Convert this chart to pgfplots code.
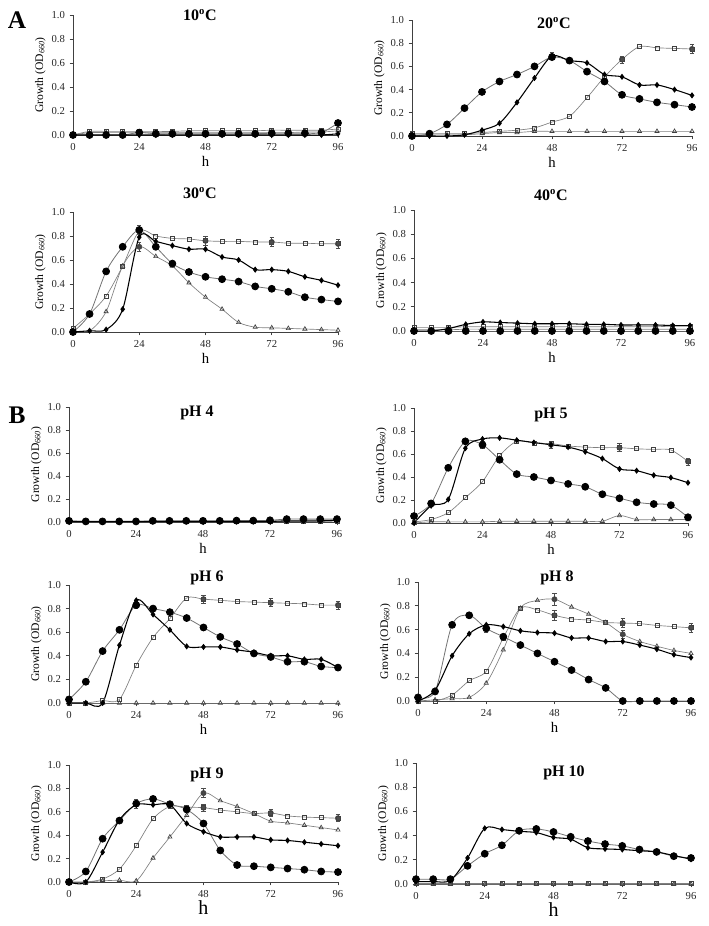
\documentclass[border=0pt]{standalone}
\usepackage{pgfplots}
\pgfplotsset{compat=1.18}
\usepackage{pgfplotstable}
\usepackage{fontspec}
\setmainfont{Liberation Serif}

% ---------- data: columns t, c (filled circles), d (diamonds), s (open squares), r (open triangles)
\pgfplotstableread{
t c d s r
0 0.00 0.00 0.00 0.00
6 0.00 0.00 0.03 0.02
12 0.00 0.00 0.03 0.02
18 0.00 0.00 0.03 0.02
24 0.02 0.00 0.03 0.02
30 0.01 0.00 0.03 0.02
36 0.01 0.00 0.03 0.02
42 0.01 0.00 0.035 0.02
48 0.01 0.00 0.035 0.02
54 0.01 0.00 0.035 0.02
60 0.01 0.00 0.035 0.02
66 0.01 0.00 0.035 0.02
72 0.015 0.00 0.04 0.02
78 0.015 0.00 0.04 0.02
84 0.015 0.00 0.04 0.025
90 0.02 0.00 0.04 0.025
96 0.10 0.01 0.05 0.035
}\tA
\pgfplotstableread{
t c d s r
0 0.00 0.00 0.02 0.01
6 0.02 0.00 0.02 0.01
12 0.10 0.00 0.02 0.01
18 0.24 0.01 0.02 0.01
24 0.38 0.05 0.03 0.02
30 0.47 0.11 0.04 0.03
36 0.53 0.29 0.05 0.03
42 0.60 0.50 0.07 0.04
48 0.68 0.69 0.12 0.04
54 0.65 0.65 0.17 0.04
60 0.555 0.63 0.33 0.04
66 0.47 0.53 0.51 0.04
72 0.355 0.51 0.66 0.04
78 0.32 0.44 0.77 0.04
84 0.29 0.44 0.76 0.04
90 0.27 0.40 0.755 0.04
96 0.25 0.35 0.75 0.04
}\tB
\pgfplotstableread{
t c d s r
0 0.00 0.00 0.03 0.01
6 0.15 0.01 0.15 0.01
12 0.505 0.02 0.30 0.17
18 0.71 0.19 0.55 0.55
24 0.85 0.79 0.84 0.71
30 0.71 0.755 0.80 0.63
36 0.57 0.72 0.78 0.55
42 0.50 0.69 0.775 0.41
48 0.46 0.69 0.76 0.29
54 0.44 0.625 0.755 0.19
60 0.42 0.60 0.755 0.08
66 0.38 0.52 0.75 0.04
72 0.36 0.52 0.75 0.035
78 0.335 0.505 0.74 0.03
84 0.29 0.46 0.74 0.025
90 0.27 0.43 0.735 0.02
96 0.255 0.39 0.735 0.015
}\tC
\pgfplotstableread{
t c d s r
0 0.00 0.00 0.03 0.01
6 0.00 0.00 0.03 0.01
12 0.00 0.02 0.03 0.01
18 0.00 0.055 0.035 0.015
24 0.00 0.075 0.035 0.015
30 0.00 0.07 0.035 0.015
36 0.00 0.065 0.035 0.015
42 0.00 0.06 0.035 0.015
48 0.00 0.06 0.035 0.015
54 0.00 0.06 0.035 0.015
60 0.00 0.055 0.035 0.015
66 0.00 0.055 0.035 0.015
72 0.00 0.05 0.035 0.015
78 0.00 0.05 0.035 0.015
84 0.00 0.05 0.035 0.015
90 0.00 0.045 0.04 0.015
96 0.00 0.045 0.04 0.015
}\tD
\pgfplotstableread{
t c d s r
0 0.01 0.005 0.005 0.005
6 0.005 0.005 0.005 0.005
12 0.005 0.005 0.005 0.005
18 0.005 0.005 0.005 0.005
24 0.005 0.005 0.005 0.005
30 0.01 0.005 0.005 0.005
36 0.01 0.005 0.005 0.005
42 0.01 0.005 0.005 0.005
48 0.01 0.005 0.005 0.005
54 0.01 0.005 0.005 0.005
60 0.012 0.005 0.005 0.005
66 0.012 0.005 0.005 0.005
72 0.015 0.005 0.005 0.005
78 0.025 0.01 0.005 0.008
84 0.025 0.01 0.005 0.008
90 0.025 0.01 0.008 0.008
96 0.025 0.015 0.01 0.01
}\tE
\pgfplotstableread{
t c d s r
0 0.06 0.00 0.01 0.00
6 0.17 0.15 0.03 0.01
12 0.48 0.205 0.09 0.01
18 0.71 0.65 0.22 0.01
24 0.68 0.73 0.36 0.01
30 0.55 0.74 0.585 0.015
36 0.425 0.72 0.71 0.015
42 0.40 0.70 0.695 0.015
48 0.37 0.68 0.69 0.015
54 0.34 0.66 0.67 0.015
60 0.315 0.62 0.66 0.015
66 0.25 0.56 0.655 0.015
72 0.215 0.47 0.655 0.065
78 0.18 0.455 0.645 0.03
84 0.165 0.415 0.64 0.03
90 0.155 0.395 0.635 0.03
96 0.05 0.35 0.535 0.03
}\tF
\pgfplotstableread{
t c d s r
0 0.03 0.00 0.00 0.00
6 0.18 0.00 0.00 0.00
12 0.44 0.00 0.02 0.00
18 0.62 0.49 0.03 0.00
24 0.83 0.87 0.32 0.00
30 0.80 0.75 0.555 0.00
36 0.77 0.62 0.715 0.00
42 0.72 0.48 0.89 0.00
48 0.64 0.475 0.88 0.00
54 0.56 0.475 0.87 0.00
60 0.50 0.45 0.86 0.00
66 0.42 0.43 0.855 0.00
72 0.39 0.40 0.85 0.00
78 0.35 0.40 0.845 0.00
84 0.35 0.37 0.84 0.00
90 0.31 0.37 0.83 0.00
96 0.30 0.30 0.83 0.00
}\tG
\pgfplotstableread{
t c d s r
0 0.03 0.00 0.00 0.00
6 0.08 0.09 0.00 0.01
12 0.64 0.38 0.05 0.02
18 0.72 0.565 0.17 0.03
24 0.61 0.64 0.25 0.15
30 0.54 0.625 0.53 0.43
36 0.47 0.59 0.78 0.78
42 0.40 0.575 0.765 0.845
48 0.33 0.57 0.72 0.855
54 0.26 0.53 0.69 0.79
60 0.18 0.53 0.68 0.73
66 0.11 0.50 0.66 0.66
72 0.00 0.50 0.655 0.56
78 0.00 0.47 0.65 0.50
84 0.00 0.435 0.635 0.46
90 0.00 0.39 0.625 0.425
96 0.00 0.365 0.615 0.40
}\tH
\pgfplotstableread{
t c d s r
0 0.00 0.00 0.00 0.00
6 0.09 0.00 0.00 0.00
12 0.37 0.255 0.025 0.01
18 0.525 0.53 0.11 0.015
24 0.67 0.66 0.31 0.01
30 0.71 0.66 0.54 0.205
36 0.665 0.66 0.645 0.385
42 0.62 0.50 0.64 0.57
48 0.50 0.43 0.635 0.76
54 0.27 0.385 0.615 0.695
60 0.145 0.385 0.60 0.645
66 0.135 0.385 0.585 0.585
72 0.125 0.36 0.59 0.52
78 0.115 0.355 0.565 0.505
84 0.105 0.34 0.555 0.485
90 0.09 0.325 0.55 0.465
96 0.085 0.31 0.545 0.445
}\tI
\pgfplotstableread{
t c d s r
0 0.04 0.02 0.005 0.00
6 0.04 0.02 0.005 0.00
12 0.04 0.03 0.005 0.00
18 0.15 0.215 0.005 0.00
24 0.25 0.46 0.005 0.00
30 0.32 0.45 0.005 0.00
36 0.44 0.435 0.005 0.00
42 0.455 0.425 0.005 0.00
48 0.43 0.385 0.005 0.00
54 0.39 0.37 0.005 0.00
60 0.355 0.30 0.005 0.00
66 0.33 0.29 0.005 0.00
72 0.315 0.285 0.005 0.00
78 0.285 0.275 0.005 0.00
84 0.265 0.265 0.005 0.00
90 0.23 0.235 0.005 0.00
96 0.215 0.205 0.005 0.00
}\tJ

\pgfplotsset{
  panel/.style={
    scale only axis,
    axis lines*=left,
    xmin=0, xmax=96, ymin=0, ymax=1,
    xtick={0,24,48,72,96},
    ytick={0,0.2,0.4,0.6,0.8,1},
    yticklabel style={/pgf/number format/fixed, /pgf/number format/fixed zerofill, /pgf/number format/precision=1},
    /pgf/number format/assume math mode=true,
    tick align=outside,
    major tick length=2.5pt,
    axis line style={black!75, line width=0.6pt},
    tick style={black!75, line width=0.6pt},
    tick label style={font=\fontsize{8}{8}\selectfont, black!85},
    clip=false,
    ylabel={Growth (OD\textsubscript{\itshape 660})},
    every axis y label/.style={at={(axis description cs:0,0.5)}, xshift=-24.5pt, rotate=90, anchor=center, font=\fontsize{8.7}{9}\selectfont},
    xlabel={h},
    every axis x label/.style={at={(axis description cs:0.5,0)}, yshift=-24pt, anchor=base, font=\fontsize{11}{12}\selectfont},
  },
  circst/.style={black!55, line width=0.6pt, smooth, tension=0.5, mark=*, mark size=2.6pt, mark options={solid, fill=black, draw=black}},
  diast/.style={black, line width=0.8pt, smooth, tension=0.5, mark=diamond*, mark size=1.7pt, mark options={solid, fill=black, draw=black}},
  sqst/.style={black!50, line width=0.5pt, smooth, tension=0.5, mark=square, mark size=1.5pt, mark options={solid, fill=white, draw=black!75, line width=0.5pt}},
  trist/.style={black!50, line width=0.5pt, smooth, tension=0.5, mark=triangle, mark size=1.8pt, mark options={solid, fill=white, draw=black!75, line width=0.5pt}},
  errst/.style={black!70, only marks, mark=none, error bars/.cd, y dir=both, y explicit, error bar style={line width=0.5pt, black!70}, error mark options={rotate=90, mark size=1.6pt, line width=0.5pt, black!70}},
}

\newcommand{\series}[1]{%
  \addplot[trist] table[x=t,y=r]{#1};
  \addplot[sqst] table[x=t,y=s]{#1};
  \addplot[circst] table[x=t,y=c]{#1};
  \addplot[diast] table[x=t,y=d]{#1};
}

\newcommand{\ttl}[1]{\fontsize{12}{12}\selectfont\bfseries #1}

\begin{document}
\begin{tikzpicture}
\path[use as bounding box] (0,0) rectangle (531pt,694.5pt);

% ---- Row 1
\begin{axis}[panel, at={(54.75pt,593.25pt)}, anchor=south west, width=198.75pt, height=90pt]
\series{\tA}
\end{axis}
\begin{axis}[panel, at={(309pt,592.5pt)}, anchor=south west, width=210pt, height=87pt]
\addplot[errst] coordinates {(48,0.69) +- (0,0.03) (72,0.66) +- (0,0.03) (96,0.75) +- (0,0.04)};
\series{\tB}
\end{axis}
% ---- Row 2
\begin{axis}[panel, at={(54.75pt,445.5pt)}, anchor=south west, width=198.75pt, height=90pt]
\addplot[errst] coordinates {(24,0.85) +- (0,0.04) (24,0.71) +- (0,0.04) (48,0.76) +- (0,0.04) (72,0.75) +- (0,0.04) (96,0.735) +- (0,0.035)};
\series{\tC}
\end{axis}
\begin{axis}[panel, at={(310.5pt,446.25pt)}, anchor=south west, width=207pt, height=90.75pt]
\series{\tD}
\end{axis}
% ---- Row 3
\begin{axis}[panel, at={(51.75pt,303pt)}, anchor=south west, width=201pt, height=86.25pt]
\series{\tE}
\end{axis}
\begin{axis}[panel, at={(310.5pt,302.25pt)}, anchor=south west, width=205.5pt, height=86.25pt]
\addplot[errst] coordinates {(24,0.68) +- (0,0.03) (48,0.68) +- (0,0.03) (72,0.655) +- (0,0.035) (96,0.535) +- (0,0.03)};
\series{\tF}
\end{axis}
% ---- Row 4
\begin{axis}[panel, at={(51.75pt,167.25pt)}, anchor=south west, width=201.75pt, height=88.5pt]
\addplot[errst] coordinates {(24,0.83) +- (0,0.03) (48,0.88) +- (0,0.035) (72,0.85) +- (0,0.035) (96,0.83) +- (0,0.035)};
\series{\tG}
\end{axis}
\begin{axis}[panel, at={(313.5pt,168.75pt)}, anchor=south west, width=204.75pt, height=89.25pt]
\addplot[errst] coordinates {(48,0.855) +- (0,0.05) (48,0.72) +- (0,0.04) (72,0.655) +- (0,0.04) (72,0.56) +- (0,0.03) (96,0.615) +- (0,0.035) (24,0.61) +- (0,0.03)};
\series{\tH}
\end{axis}
% ---- Row 5
\begin{axis}[panel, at={(51.75pt,33pt)}, anchor=south west, width=201.75pt, height=87.75pt,
  every axis x label/.append style={font=\fontsize{15}{15}\selectfont}]
\addplot[errst] coordinates {(24,0.67) +- (0,0.04) (48,0.76) +- (0,0.04) (48,0.635) +- (0,0.03) (72,0.59) +- (0,0.03) (96,0.545) +- (0,0.03)};
\series{\tI}
\end{axis}
\begin{axis}[panel, at={(312pt,31.5pt)}, anchor=south west, width=206.25pt, height=90.75pt,
  every axis x label/.append style={font=\fontsize{15}{15}\selectfont}]
\series{\tJ}
\end{axis}

% ---- titles and panel letters
\node at (150pt,683.25pt) {\ttl{10\textsuperscript{o}C}};
\node at (415.5pt,677.25pt) {\ttl{20\textsuperscript{o}C}};
\node at (150pt,549.75pt) {\ttl{30\textsuperscript{o}C}};
\node at (413.25pt,548.25pt) {\ttl{40\textsuperscript{o}C}};
\node at (147.75pt,384.75pt) {\ttl{pH 4}};
\node at (413.25pt,383.25pt) {\ttl{pH 5}};
\node at (155.25pt,261pt) {\ttl{pH 6}};
\node at (417.75pt,261pt) {\ttl{pH 8}};
\node at (155.25pt,113.25pt) {\ttl{pH 9}};
\node at (423pt,114.75pt) {\ttl{pH 10}};
\node at (12.75pt,679.5pt) {\fontsize{19}{19}\selectfont\bfseries A};
\node at (12.75pt,383.25pt) {\fontsize{19}{19}\selectfont\bfseries B};
\end{tikzpicture}
\end{document}
